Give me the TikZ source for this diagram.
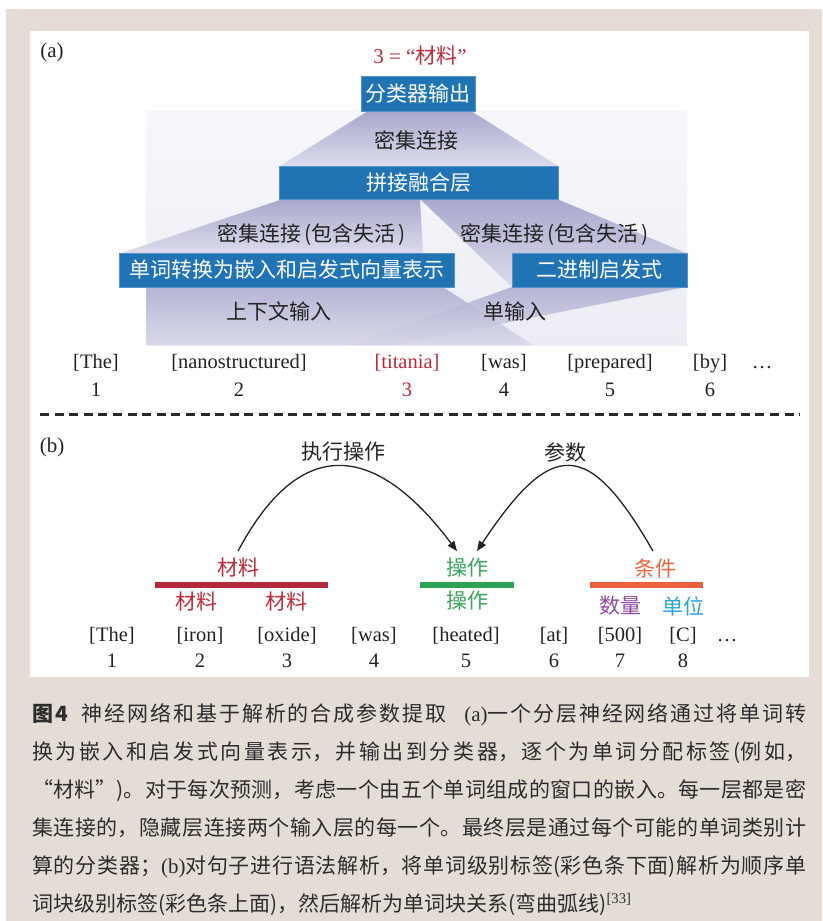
\documentclass[tikz,border=0pt]{standalone}
\usepackage{fontspec}
\setmainfont{Liberation Serif}
\newfontfamily\cjk{Noto Sans CJK SC}
\usetikzlibrary{arrows.meta}
\definecolor{bgbeige}{RGB}{227,221,214}
\definecolor{boxblue}{RGB}{33,116,180}
\definecolor{boxedge}{RGB}{85,145,205}
\definecolor{lavtop}{RGB}{168,168,205}
\definecolor{lavmid}{RGB}{172,172,208}
\definecolor{lavbot}{RGB}{220,220,236}
\definecolor{lavbotb}{RGB}{214,214,232}
\definecolor{bgltop}{RGB}{247,247,251}
\definecolor{bglbot}{RGB}{236,236,244}
\definecolor{labtxt}{RGB}{35,35,35}
\definecolor{redtxt}{RGB}{190,42,58}
\definecolor{redbar}{RGB}{178,42,58}
\definecolor{greentxt}{RGB}{55,165,90}
\definecolor{greenbar}{RGB}{47,163,85}
\definecolor{orangetxt}{RGB}{234,100,62}
\definecolor{orangebar}{RGB}{232,96,60}
\definecolor{purpletxt}{RGB}{140,75,160}
\definecolor{cyantxt}{RGB}{40,165,215}
\definecolor{captxt}{RGB}{45,45,45}
\definecolor{dashgray}{RGB}{40,40,40}
\newcommand\capfull[1]{\parbox[b]{774pt}{\cjk\fontsize{21}{25}\selectfont\XeTeXlinebreaklocale "zh"\XeTeXlinebreakskip=0pt plus 5pt minus 0.5pt\relax\parfillskip=0pt\relax #1}}
\newcommand\caplast[1]{\parbox[b]{774pt}{\cjk\fontsize{21}{25}\selectfont\XeTeXlinebreaklocale "zh"\XeTeXlinebreakskip=0pt plus 1pt\relax #1}}
\begin{document}
\begin{tikzpicture}[x=1pt,y=-1pt,
  cn/.style={font=\cjk\fontsize{21}{25}\selectfont, inner sep=0pt, text=labtxt},
  lat/.style={font=\fontsize{20.5}{24}\selectfont, inner sep=0pt, text=labtxt, anchor=base},
  bluebox/.style={fill=boxblue, draw=boxedge, line width=0.8pt, text=white,
    font=\cjk\fontsize{21}{25}\selectfont, inner sep=0pt},
  lav/.style={top color=lavtop, bottom color=lavbot},
  lavb/.style={top color=lavmid, bottom color=lavbotb, fill opacity=0.85},
  arcline/.style={line width=1.3pt, draw=labtxt, -{Triangle[length=10pt,width=8pt]}},
  capnode/.style={anchor=base west, inner sep=0pt, text=captxt}]
\useasboundingbox (0,0) rectangle (822,921);
\fill[white] (0,0) rectangle (822,921);
\fill[bgbeige] (6,9) rectangle (822,921);
\fill[white] (30,31) rectangle (809,677);

% ---------- (a) ----------
\node[font=\fontsize{21}{25}\selectfont, inner sep=0pt, text=labtxt] (lbla) at (52,52) {(a)};
\node[inner sep=0pt, text=redtxt, font=\fontsize{21}{25}\selectfont] (res) at (420,56)
  {3 = “{\cjk 材料}”};

\shade[top color=bgltop, bottom color=bglbot] (146,110) rectangle (687,345);
\shade[lav] (368,111) -- (471,111) -- (558,166) -- (280,166) -- cycle;
\shade[lav] (283,199) -- (420,199) -- (423,253) -- (121,253) -- cycle;
\shade[lav] (420,199) -- (557,199) -- (686,253) -- (686,287) -- (512,287) -- cycle;
\shade[lavb] (146,287) -- (443,287) -- (533,345) -- (146,345) -- cycle;
\shade[lavb] (512,287) -- (686,287) -- (395,345) -- (350,345) -- cycle;

\node[bluebox, minimum width=114pt, minimum height=35pt] (cls) at (418,93.5) {分类器输出};
\node[bluebox, minimum width=279pt, minimum height=33pt] (cat) at (418.5,182.5) {拼接融合层};
\node[bluebox, minimum width=335pt, minimum height=34pt] (emb) at (286.5,270) {单词转换为嵌入和启发式向量表示};
\node[bluebox, minimum width=175pt, minimum height=34pt] (bin) at (599.5,270) {二进制启发式};

\node[cn] (d1) at (416,140) {密集连接};
\node[cn] (d2) at (312,235) {密集连接\hspace{3pt}(包含失活\hspace{3pt})};
\node[cn] (d3) at (555,235) {密集连接\hspace{3pt}(包含失活\hspace{3pt})};
\node[cn] (ctx) at (279,311) {上下文输入};
\node[cn] (sgl) at (515,311) {单输入};

\node[lat] (aw1) at (96,368) {[The]};
\node[lat] (aw2) at (239,368) {[nanostructured]};
\node[lat, text=redtxt] (aw3) at (407,368) {[titania]};
\node[lat] (aw4) at (504,368) {[was]};
\node[lat] (aw5) at (610,368) {[prepared]};
\node[lat] (aw6) at (710,368) {[by]};
\node[lat] (aw7) at (762,368) {\ldots};
\node[lat] (an1) at (96,396) {1};
\node[lat] (an2) at (239,396) {2};
\node[lat, text=redtxt] (an3) at (407,396) {3};
\node[lat] (an4) at (504,396) {4};
\node[lat] (an5) at (610,396) {5};
\node[lat] (an6) at (710,396) {6};

\draw[line width=3pt, dash pattern=on 9pt off 5.6pt, draw=dashgray] (40,414) -- (800,414);

% ---------- (b) ----------
\node[font=\fontsize{21}{25}\selectfont, inner sep=0pt, text=labtxt] (lblb) at (52,447) {(b)};

\fill[redbar] (155,582) rectangle (328,588);
\fill[greenbar] (420,582) rectangle (514,588);
\fill[orangebar] (590,582) rectangle (703,588);

\node[cn, text=redtxt] (chMat) at (238,568) {材料};
\node[cn, text=greentxt] (chOp) at (467,568) {操作};
\node[cn, text=orangetxt] (chCond) at (655,568) {条件};

\node[cn] (rel1) at (343,452) {执行操作};
\node[cn] (rel2) at (565,452) {参数};

\draw[arcline] ([yshift=7pt]chMat.north) .. controls +(60,-113) and +(-85,-113) .. ([xshift=-10pt,yshift=7pt]chOp.north);
\draw[arcline] ([xshift=-2pt,yshift=7pt]chCond.north) .. controls +(-65,-113) and +(75,-113) .. ([xshift=10pt,yshift=7pt]chOp.north);

\node[cn, text=redtxt] (wl2) at (196,602) {材料};
\node[cn, text=redtxt] (wl3) at (286,602) {材料};
\node[cn, text=greentxt] (wl5) at (467,601) {操作};
\node[cn, text=purpletxt] (wl7) at (620,606) {数量};
\node[cn, text=cyantxt] (wl8) at (683,606) {单位};

\node[lat] (bw1) at (112,641) {[The]};
\node[lat] (bw2) at (200,641) {[iron]};
\node[lat] (bw3) at (287,641) {[oxide]};
\node[lat] (bw4) at (374,641) {[was]};
\node[lat] (bw5) at (466,641) {[heated]};
\node[lat] (bw6) at (554,641) {[at]};
\node[lat] (bw7) at (620,641) {[500]};
\node[lat] (bw8) at (683,641) {[C]};
\node[lat] (bw9) at (727,641) {\ldots};
\node[lat] (bn1) at (112,667) {1};
\node[lat] (bn2) at (200,667) {2};
\node[lat] (bn3) at (287,667) {3};
\node[lat] (bn4) at (374,667) {4};
\node[lat] (bn5) at (466,667) {5};
\node[lat] (bn6) at (554,667) {6};
\node[lat] (bn7) at (620,667) {7};
\node[lat] (bn8) at (683,667) {8};

% ---------- caption ----------
\node[capnode] (cap1) at (32,721) {\capfull{{\bfseries 图4}\hspace{14pt}神经网络和基于解析的合成参数提取\hspace{18pt}{\rmfamily (a)}一个分层神经网络通过将单词转}};
\node[capnode] (cap2) at (32,759) {\capfull{换为嵌入和启发式向量表示，并输出到分类器，逐个为单词分配标签(例如，}};
\node[capnode] (cap3) at (32,797) {\capfull{“材料”)。对于每次预测，考虑一个由五个单词组成的窗口的嵌入。每一层都是密}};
\node[capnode] (cap4) at (32,835) {\capfull{集连接的，隐藏层连接两个输入层的每一个。最终层是通过每个可能的单词类别计}};
\node[capnode] (cap5) at (32,873) {\capfull{算的分类器；{\rmfamily (b)}对句子进行语法解析，将单词级别标签(彩色条下面)解析为顺序单}};
\node[capnode] (cap6) at (32,911) {\caplast{词块级别标签(彩色条上面)，然后解析为单词块关系(弯曲弧线){\rmfamily\textsuperscript{[33]}}}};
\end{tikzpicture}
\end{document}
